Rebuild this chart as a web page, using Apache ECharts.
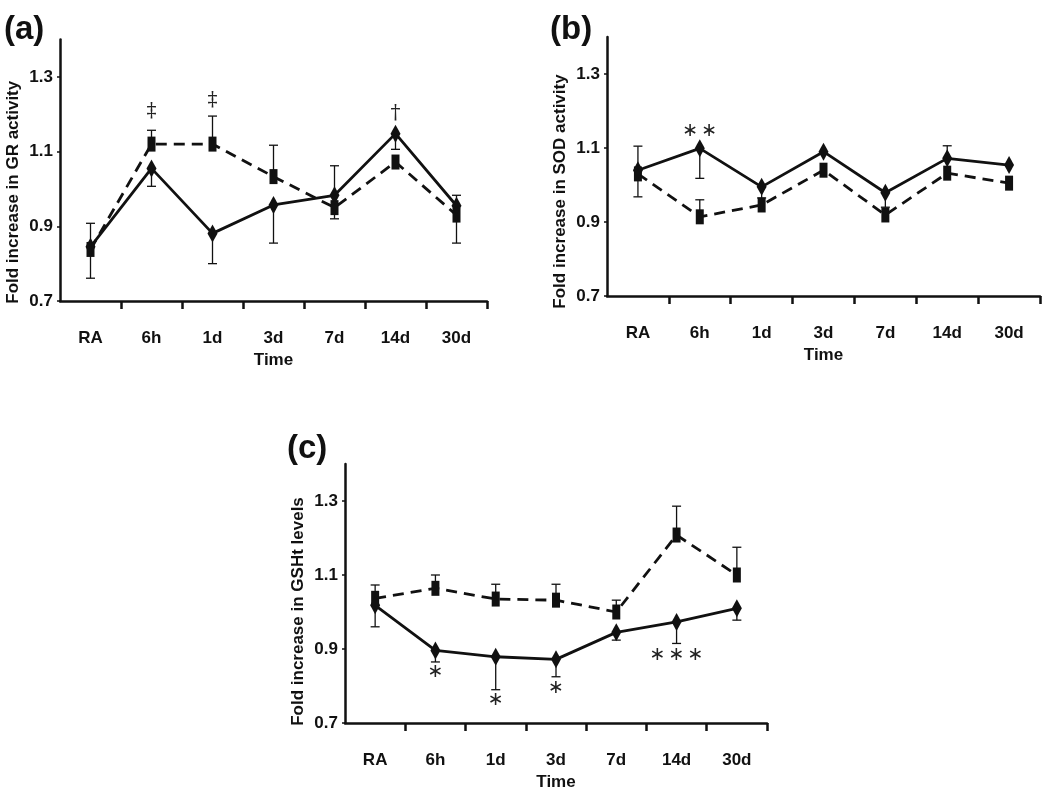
<!DOCTYPE html>
<html>
<head>
<meta charset="utf-8">
<script src="https://cdn.jsdelivr.net/npm/echarts@6/dist/echarts.min.js"></script>
<style>
  html, body { margin: 0; padding: 0; background: #fff; }
  #chart { width: 1050px; height: 797px; }
</style>
</head>
<body>
<div id="chart"></div>
<script>
const times = ['RA', '6h', '1d', '3d', '7d', '14d', '30d'];
const yTicks = [0.7, 0.9, 1.1, 1.3];

// (a) GR activity
const grSolid = [0.845, 1.055, 0.881, 0.957, 0.983, 1.148, 0.955];
const grDashed = [0.838, 1.12, 1.12, 1.033, 0.95, 1.072, 0.93];
// [time index, from, to] - cap drawn at "to"
const grErr = [[0, 0.845, 0.761], [0, 0.845, 0.908], [1, 1.055, 1.007], [1, 1.12, 1.157],
  [2, 0.881, 0.80], [2, 1.12, 1.195], [3, 0.957, 0.855], [3, 1.033, 1.117],
  [4, 0.983, 1.062], [4, 0.95, 0.92], [5, 1.148, 1.106], [6, 0.95, 0.983], [6, 0.93, 0.855]];
const grMarks = [[1, 1.206, '‡'], [2, 1.236, '‡'], [5, 1.2, '†']];

// (b) SOD activity
const sodSolid = [1.04, 1.099, 0.995, 1.09, 0.979, 1.072, 1.054];
const sodDashed = [1.03, 0.914, 0.946, 1.04, 0.919, 1.032, 1.005];
const sodErr = [[0, 1.04, 1.105], [0, 1.03, 0.968], [1, 1.099, 1.018], [1, 0.914, 0.96],
  [2, 0.995, 0.965], [4, 0.979, 0.94], [5, 1.072, 1.106]];
const sodMarks = [[1, 1.146, '∗ ∗']];

// (c) GSHt levels
const gshSolid = [1.018, 0.896, 0.879, 0.872, 0.945, 0.973, 1.01];
const gshDashed = [1.037, 1.064, 1.035, 1.032, 1.0, 1.208, 1.1];
const gshErr = [[0, 1.037, 1.073], [0, 1.018, 0.96], [1, 1.064, 1.1], [1, 0.896, 0.865],
  [2, 1.035, 1.075], [2, 0.879, 0.79], [3, 1.032, 1.075], [3, 0.872, 0.825],
  [4, 1.0, 1.032], [4, 0.945, 0.924], [5, 1.208, 1.286], [5, 0.973, 0.915],
  [6, 1.1, 1.175], [6, 1.01, 0.978]];
const gshMarks = [[1, 0.837, '∗'], [2, 0.761, '∗'], [3, 0.794, '∗'], [5, 0.883, '∗ ∗ ∗']];

const panels = [
  { tag: '(a)', yName: 'Fold increase in GR activity', solid: grSolid, dashed: grDashed, err: grErr, marks: grMarks,
    grid: { left: 60, right: 563, top: 39.5, bottom: 496 }, tagPos: [4, 13], namePad: 44 },
  { tag: '(b)', yName: 'Fold increase in SOD activity', solid: sodSolid, dashed: sodDashed, err: sodErr, marks: sodMarks,
    grid: { left: 607, right: 10, top: 37, bottom: 501 }, tagPos: [550, 13], namePad: 50 },
  { tag: '(c)', yName: 'Fold increase in GSHt levels', solid: gshSolid, dashed: gshDashed, err: gshErr, marks: gshMarks,
    grid: { left: 345, right: 283, top: 464, bottom: 74 }, tagPos: [287, 432], namePad: 36 }
];

const font = 'Liberation Sans, Arial, sans-serif';
const diamond = 'path://M5,0 L10,9 L5,18 L0,9 Z';

const option = {
  animation: false,
  backgroundColor: '#fff',
  grid: [], xAxis: [], yAxis: [], series: [], graphic: []
};

panels.forEach((p, i) => {
  option.grid.push(p.grid);
  option.xAxis.push({
    type: 'category', gridIndex: i, data: times, boundaryGap: true,
    name: 'Time', nameLocation: 'middle', nameGap: 51,
    nameTextStyle: { fontFamily: font, fontWeight: 'bold', fontSize: 17, color: '#111' },
    axisLine: { lineStyle: { color: '#111', width: 2.5 } },
    axisTick: { show: true, length: 8, interval: (idx) => idx !== 0, lineStyle: { color: '#111', width: 2.5 } },
    axisLabel: { margin: 29, fontFamily: font, fontWeight: 'bold', fontSize: 17, color: '#111' }
  });
  option.yAxis.push({
    type: 'value', gridIndex: i, min: 0.7, max: 1.4, interval: 0.2,
    name: p.yName, nameLocation: 'middle', nameGap: 38,
    nameTextStyle: { fontFamily: font, fontWeight: 'bold', fontSize: 17, color: '#111', padding: [0, p.namePad, 0, 0] },
    axisLine: { show: true, lineStyle: { color: '#111', width: 2.5 } },
    axisTick: { show: true, length: 3, lineStyle: { color: '#111', width: 1.5 } },
    splitLine: { show: false },
    axisLabel: {
      showMaxLabel: false, margin: 7, fontFamily: font, fontWeight: 'bold', fontSize: 17, color: '#111',
      formatter: v => yTicks.some(t => Math.abs(t - v) < 1e-6) ? v.toFixed(1) : ''
    }
  });
  option.series.push({
    type: 'line', xAxisIndex: i, yAxisIndex: i, data: p.dashed, z: 3,
    lineStyle: { color: '#111', width: 2.8, type: [11, 7] },
    symbol: 'rect', symbolSize: [8, 15], itemStyle: { color: '#111' }
  });
  option.series.push({
    type: 'line', xAxisIndex: i, yAxisIndex: i, data: p.solid, z: 4,
    lineStyle: { color: '#111', width: 2.8 },
    symbol: diamond, symbolSize: [10, 18], itemStyle: { color: '#111' }
  });
  option.series.push({
    type: 'custom', xAxisIndex: i, yAxisIndex: i, data: p.err, z: 5,
    renderItem: (params, api) => {
      const a = api.coord([api.value(0), api.value(1)]);
      const b = api.coord([api.value(0), api.value(2)]);
      const s = { stroke: '#111', lineWidth: 1.3 };
      return {
        type: 'group', children: [
          { type: 'line', shape: { x1: a[0], y1: a[1], x2: b[0], y2: b[1] }, style: s },
          { type: 'line', shape: { x1: b[0] - 4.5, y1: b[1], x2: b[0] + 4.5, y2: b[1] }, style: s }
        ]
      };
    }
  });
  // significance symbols, each glyph placed 19px apart
  option.series.push({
    type: 'custom', xAxisIndex: i, yAxisIndex: i, data: p.marks, z: 6,
    renderItem: (params, api) => {
      const c = api.coord([api.value(0), api.value(1)]);
      const glyphs = p.marks[params.dataIndex][2].split(' ');
      const isStar = glyphs[0] === '∗';
      return {
        type: 'group', x: c[0], y: c[1],
        children: glyphs.map((g, k) => ({
          type: 'text',
          style: { text: g, x: (k - (glyphs.length - 1) / 2) * 19, y: 0, align: 'center', verticalAlign: 'middle',
            font: isStar ? '19px "DejaVu Sans", sans-serif' : '20px "DejaVu Serif", serif', fill: '#222' }
        }))
      };
    }
  });
  option.graphic.push({
    type: 'text', left: p.tagPos[0], top: p.tagPos[1],
    style: { text: p.tag, font: 'bold 33px ' + font, fill: '#111' }
  });
});

const chart = echarts.init(document.getElementById('chart'));
chart.setOption(option);
</script>
</body>
</html>
